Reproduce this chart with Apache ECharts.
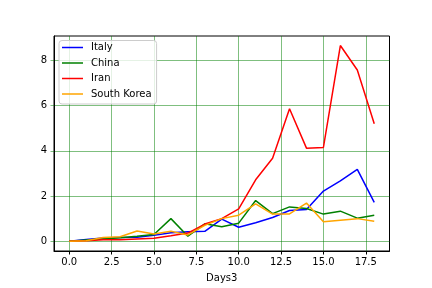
<!DOCTYPE html>
<html><head><meta charset="utf-8">
<script src="https://cdn.jsdelivr.net/npm/echarts@6/dist/echarts.min.js"></script>
<style>html,body{margin:0;padding:0;background:#fff}#c{width:432px;height:288px}</style>
</head><body><div id="c"></div>
<script>
const days = [0,1,2,3,4,5,6,7,8,9,10,11,12,13,14,15,16,17,18];
const italy = [0,0.08,0.14,0.17,0.18,0.26,0.37,0.42,0.44,0.98,0.62,0.82,1.05,1.36,1.40,2.22,2.67,3.18,1.72];
const china = [0,0.05,0.10,0.15,0.22,0.30,1.00,0.22,0.77,0.64,0.80,1.80,1.22,1.52,1.45,1.20,1.33,1.02,1.15];
const iran = [0,0.02,0.06,0.07,0.10,0.13,0.24,0.36,0.76,1.00,1.43,2.72,3.67,5.86,4.12,4.15,8.66,7.58,5.20];
const southKorea = [0,0.02,0.16,0.20,0.45,0.32,0.44,0.28,0.70,1.00,1.15,1.65,1.20,1.21,1.69,0.86,0.93,1.00,0.88];
const seriesNames = ['Italy','China','Iran','South Korea'];
const xTickValues = [0,2.5,5,7.5,10,12.5,15,17.5];
const yTickValues = [0,2,4,6,8];
const xLabel = 'Days3';

const colors = ['#0000ff','#008000','#ff0000','#ffa500'];
const allSeries = [italy, china, iran, southKorea];
const font = 'DejaVu Sans';
const gridColor = 'rgba(0,128,0,0.5)';

const chart = echarts.init(document.getElementById('c'), null, {renderer:'canvas'});
chart.setOption({
  animation: false,
  backgroundColor: '#fff',
  grid: {left: 54, right: 42.5, top: 36, bottom: 36.3, show: true, borderColor: '#000', borderWidth: 1, backgroundColor: 'transparent'},
  legend: {
    orient: 'vertical', left: 59, top: 40.5,
    data: seriesNames,
    icon: 'rect', itemWidth: 21, itemHeight: 1.5, itemGap: 3.5,
    padding: [1, 5, 4, 3],
    backgroundColor: 'rgba(255,255,255,0.8)', borderColor: '#cccccc', borderWidth: 1, borderRadius: 3,
    textStyle: {fontFamily: font, fontSize: 10, color: '#000', lineHeight: 12, padding: [0,0,0,3]}
  },
  xAxis: {
    type: 'value', min: -0.9, max: 18.9,
    name: xLabel, nameLocation: 'middle', nameGap: 22,
    nameTextStyle: {fontFamily: font, fontSize: 10, color: '#000'},
    axisLine: {show: true, onZero: false, lineStyle: {color: '#000', width: 1}},
    axisTick: {show: true, length: 3.5, customValues: xTickValues, lineStyle: {color: '#000', width: 1}},
    axisLabel: {customValues: xTickValues, formatter: v => v.toFixed(1), margin: 6, fontFamily: font, fontSize: 10, color: '#000'},
    splitLine: {show: true, lineStyle: {color: gridColor, width: 1}}
  },
  yAxis: {
    type: 'value', min: -0.4325, max: 9.0825,
    axisLine: {show: true, onZero: false, lineStyle: {color: '#000', width: 1}},
    axisTick: {show: true, length: 3.5, customValues: yTickValues, lineStyle: {color: gridColor, width: 1}},
    axisLabel: {customValues: yTickValues, formatter: v => String(v), margin: 7, fontFamily: font, fontSize: 10, color: '#000'},
    splitLine: {show: true, lineStyle: {color: gridColor, width: 1}}
  },
  series: allSeries.map((arr, k) => ({
    name: seriesNames[k], type: 'line', symbol: 'none', showSymbol: false,
    data: days.map((d, i) => [d, arr[i]]),
    lineStyle: {color: colors[k], width: 1.5}, itemStyle: {color: colors[k]},
    emphasis: {disabled: true}
  }))
});
</script></body></html>
